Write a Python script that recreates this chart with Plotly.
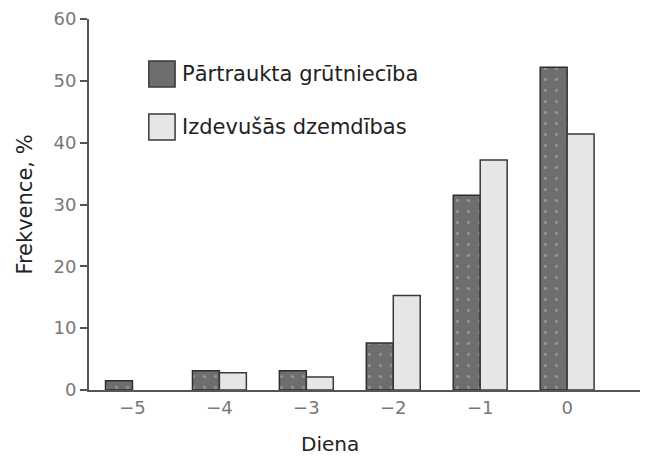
import plotly.graph_objects as go

days = [-5, -4, -3, -2, -1, 0]
tick_text = ["\u22125", "\u22124", "\u22123", "\u22122", "\u22121", "0"]
terminated = [1.5, 3.1, 3.1, 7.6, 31.5, 52.2]
births = [None, 2.8, 2.1, 15.3, 37.2, 41.4]
series_names = ["Pārtraukta grūtniecība", "Izdevušās dzemdības"]
y_ticks = [0, 10, 20, 30, 40, 50, 60]
x_title = "Diena"
y_title = "Frekvence, %"

dark = "#6e6e6e"
light = "#e6e6e6"
FONT = "DejaVu Sans, Verdana, sans-serif"

fig = go.Figure()
fig.add_trace(go.Bar(
    x=days, y=terminated, name=series_names[0],
    marker=dict(color=dark, line=dict(color="#2e2e2e", width=1.5),
                pattern=dict(shape=".", fgcolor="#b4b4b4", size=11, solidity=0.07)),
    showlegend=False,
))
fig.add_trace(go.Bar(
    x=days, y=births, name=series_names[1],
    marker=dict(color=light, line=dict(color="#3a3a3a", width=1.5)),
    showlegend=False,
))

# legend drawn as shapes + annotations
leg = [(dark, series_names[0], 0.852), (light, series_names[1], 0.709)]
for col, txt, yc in leg:
    fig.add_shape(type="rect", xref="paper", yref="paper",
                  x0=0.107, x1=0.154, y0=yc - 0.035, y1=yc + 0.035,
                  fillcolor=col, line=dict(color="#3a3a3a", width=1.5))
    fig.add_annotation(xref="paper", yref="paper", x=0.163, y=yc,
                       text=txt, showarrow=False, xanchor="left", yanchor="middle",
                       font=dict(size=21, color="#222222", family=FONT))

# x-axis title
fig.add_annotation(xref="paper", yref="paper", x=0.431, y=-0.145,
                   text=x_title, showarrow=False, xanchor="center", yanchor="middle",
                   font=dict(size=20, color="#222222", family=FONT))

fig.update_layout(
    width=640, height=448,
    margin=dict(l=81, r=0, t=11, b=66),
    paper_bgcolor="white", plot_bgcolor="white",
    barmode="group", bargap=0.38, bargroupgap=0,
    font=dict(family=FONT),
    xaxis=dict(
        range=[-5.5, 0.93], tickvals=days, ticktext=tick_text,
        showgrid=False, zeroline=False, showline=True, linecolor="#555555", linewidth=2,
        ticks="", tickfont=dict(size=18, color="#777777"), automargin=False,
    ),
    yaxis=dict(
        range=[0, 60], tickvals=y_ticks,
        showgrid=False, zeroline=False, showline=True, linecolor="#555555", linewidth=2,
        ticks="outside", ticklen=7, tickwidth=2, tickcolor="#555555",
        tickfont=dict(size=18, color="#777777"), automargin=False,
        title=dict(text=y_title, font=dict(size=21, color="#222222"), standoff=15),
    ),
)

fig.write_html("out.html")
